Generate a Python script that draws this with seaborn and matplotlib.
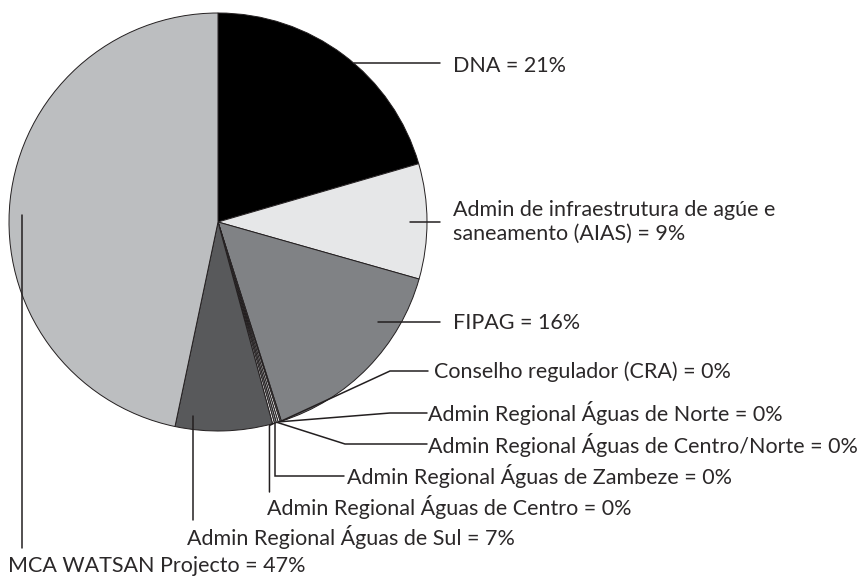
import numpy as np
import matplotlib
matplotlib.use("Agg")
import matplotlib.pyplot as plt
import seaborn as sns

sns.set_theme(style="white")
plt.rcParams['font.family'] = ['Lato', 'DejaVu Sans']

# data: share of funding by institution (%), clockwise from 12 o'clock
labels = [
    "DNA = 21%",
    "Admin de infraestrutura de agúe e\nsaneamento (AIAS) = 9%",
    "FIPAG = 16%",
    "Conselho regulador (CRA) = 0%",
    "Admin Regional Águas de Norte = 0%",
    "Admin Regional Águas de Centro/Norte = 0%",
    "Admin Regional Águas de Zambeze = 0%",
    "Admin Regional Águas de Centro = 0%",
    "Admin Regional Águas de Sul = 7%",
    "MCA WATSAN Projecto = 47%",
]
shares = [20.5, 8.9, 15.7, 0.1, 0.15, 0.15, 0.15, 0.15, 7.5, 46.7]
colors = ["#000000", "#e6e7e8", "#808285", "#a7a9ac", "#ffffff",
          "#d1d3d4", "#939598", "#ffffff", "#58595b", "#bcbec0"]

W, H = 860, 580
cx, cy, R = 218, 222, 209  # pie centre / radius in pixels (from top-left)

fig = plt.figure(figsize=(W / 100, H / 100), dpi=100)
ax = fig.add_axes([0, 0, 1, 1])
ax.set_xlim(0, W)
ax.set_ylim(0, H)
ax.set_aspect("equal")
ax.axis("off")

def py(y):
    # convert a top-down pixel row to data y
    return H - y

wedges, _ = ax.pie(shares, colors=colors, startangle=90, counterclock=False,
                   center=(cx, py(cy)), radius=R,
                   wedgeprops=dict(edgecolor="#231f20", linewidth=0.7))
ax.set_xlim(0, W)
ax.set_ylim(0, H)

def rim(i, frac=1.0):
    # point at wedge i's mid angle, frac of the radius (top-down pixel coords)
    w = wedges[i]
    a = np.deg2rad((w.theta1 + w.theta2) / 2)
    return cx + frac * R * np.cos(a), cy - frac * R * np.sin(a)

def chord_x(ty, frac):
    return cx + frac * np.sqrt(R ** 2 - (ty - cy) ** 2)

lc = "#231f20"
fs = 15.5

def leader(pts):
    xs = [p[0] for p in pts]
    ys = [py(p[1]) for p in pts]
    ax.plot(xs, ys, color=lc, lw=1.1, solid_joinstyle="miter")

def label(i, x, y, ha="left", va="center"):
    ax.text(x, py(y), labels[i], ha=ha, va=va, fontsize=fs, color="#2b2829",
            fontweight="normal", linespacing=1.2)

# big slices on the right: horizontal leaders
leader([(chord_x(63, 1.0), 63), (440, 63)])
label(0, 453, 66)
leader([(chord_x(222, 0.92), 222), (440, 222)])
label(1, 453, 222)
leader([(chord_x(322, 0.87), 322), (440, 322)])
label(2, 453, 323)

# tiny slices
p = rim(3); leader([p, (390, 371), (428, 371)])
label(3, 434, 372)
p = rim(4); leader([p, (390, 413), (427, 413)])
label(4, 428, 413)
p = rim(5); leader([p, (345, 444), (427, 444)])
label(5, 428, 445)
p = rim(6); leader([p, (p[0], 476), (344, 476)])
label(6, 347, 476)
p = rim(7); leader([p, (p[0] - 4, p[1] + 2), (p[0] - 4, 492)])
label(7, 267, 507)

# left side: vertical leaders
leader([(193, 416), (193, 520)])
label(8, 187, 537)
leader([(22, 215), (22, 548)])
label(9, 8, 566)

plt.savefig("out.png", dpi=100)
